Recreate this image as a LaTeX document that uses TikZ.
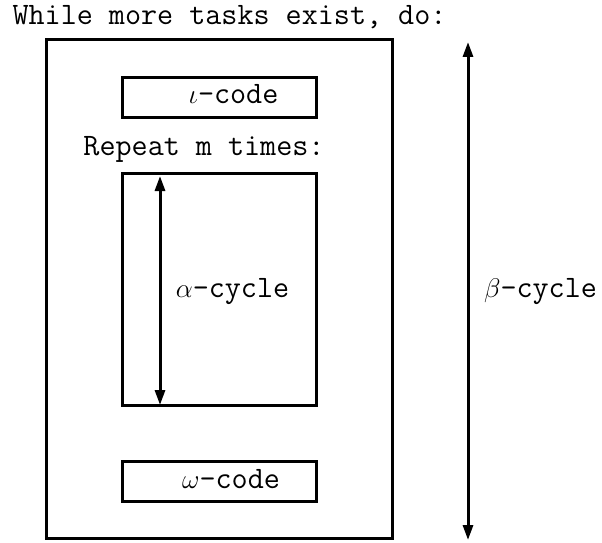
\RequirePackage{fix-cm}
\documentclass[tikz,border=0pt]{standalone}
\usetikzlibrary{arrows.meta}
\begin{document}
\begin{tikzpicture}[x=1pt,y=-1pt,
  box/.style={draw,line width=3pt,inner sep=0pt,minimum width=#1},
  lbl/.style={inner sep=0pt,anchor=base,font=\fontsize{31.2}{36}\selectfont\ttfamily},
  arr/.style={line width=3pt,{Triangle[length=15pt,width=10pt]}-{Triangle[length=15pt,width=10pt]},shorten <=0pt,shorten >=0pt}]
\useasboundingbox (0,0) rectangle (602,543);
\newcommand{\gkl}[1]{{\fontsize{27}{30}\selectfont$#1$}}
% boxes
\node[box=346pt,minimum height=498pt] (outer) at (219,289) {};
\node[box=194pt,minimum height=40pt] (iota) at (219,97) {};
\node[box=194pt,minimum height=232pt] (alpha) at (219,289) {};
\node[box=194pt,minimum height=40pt] (omega) at (219,481) {};
% texts
\node[lbl] (title) at (229.5,25) {While more tasks exist, do:};
\node[lbl] (repeat) at (204,155) {Repeat m times:};
\node[lbl] (iotat) at (233.5,103) {\gkl{\iota}-code};
\node[lbl] (alphat) at (232.5,297) {\gkl{\alpha}-cycle};
\node[lbl] (omegat) at (231,488) {\gkl{\omega}-code};
\node[lbl] (betat) at (540.5,297) {\gkl{\beta}-cycle};
% arrows
\coordinate (atop) at (160,176);
\coordinate (abot) at (160,405);
\coordinate (btop) at (468,42);
\coordinate (bbot) at (468,540);
\draw[arr] (atop) -- (abot);
\draw[arr] (btop) -- (bbot);
\end{tikzpicture}
\end{document}
